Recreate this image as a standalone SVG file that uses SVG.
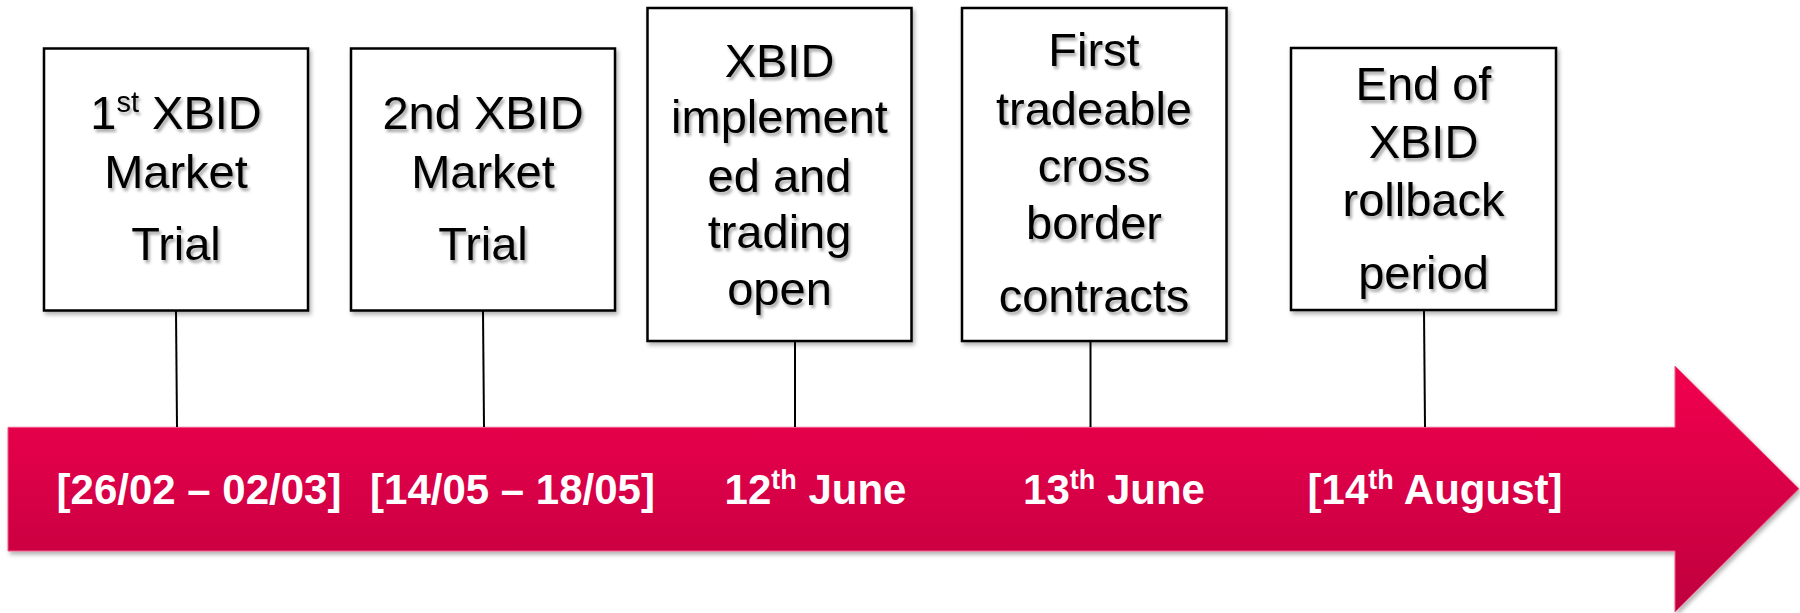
<svg xmlns="http://www.w3.org/2000/svg" width="1800" height="613" viewBox="0 0 1800 613">
  <defs>
    <linearGradient id="arrowGrad" gradientUnits="userSpaceOnUse" x1="0" y1="366" x2="0" y2="612">
      <stop offset="0" stop-color="#f2004f"/>
      <stop offset="1" stop-color="#bf003e"/>
    </linearGradient>
    <filter id="shadow" x="-5%" y="-5%" width="115%" height="120%">
      <feDropShadow dx="2" dy="3" stdDeviation="2" flood-color="#000" flood-opacity="0.3"/>
    </filter>
    <filter id="tshadow" x="-10%" y="-10%" width="130%" height="130%">
      <feDropShadow dx="2" dy="3" stdDeviation="1.5" flood-color="#000" flood-opacity="0.35"/>
    </filter>
  </defs>
  <style>
    .box { fill: #ffffff; stroke: #000000; stroke-width: 2.5; }
    .conn { stroke: #000000; stroke-width: 2; fill: none; }
    .lbl { font-family: "Liberation Sans", Arial, sans-serif; font-size: 47px; fill: #000000; text-anchor: middle; }
    .date { font-family: "Liberation Sans", Arial, sans-serif; font-size: 42px; font-weight: bold; fill: #ffffff; text-anchor: middle; }
  </style>
  <rect width="1800" height="613" fill="#ffffff"/>

  <g id="timeline-arrow" filter="url(#shadow)">
    <path d="M8,427.3 L1675,427.3 L1675,366 L1799,488.7 L1675,612 L1675,551 L8,551 Z" fill="url(#arrowGrad)" stroke="#ef5a8a" stroke-width="1"/>
  </g>

  <g id="connectors">
    <line class="conn" x1="176" y1="311" x2="177" y2="427"/>
    <line class="conn" x1="483" y1="311" x2="484" y2="427"/>
    <line class="conn" x1="795" y1="341" x2="795" y2="427"/>
    <line class="conn" x1="1090.5" y1="341" x2="1090.5" y2="427"/>
    <line class="conn" x1="1424" y1="311" x2="1425" y2="427"/>
  </g>

  <g id="node-1">
    <rect class="box" x="44" y="48.5" width="264" height="262" filter="url(#shadow)"/>
    <g class="lbl" filter="url(#tshadow)">
      <text x="176" y="129">1<tspan font-size="29" dy="-17">st</tspan><tspan dy="17"> XBID</tspan></text>
      <text x="176" y="188">Market</text>
      <text x="176" y="260">Trial</text>
    </g>
  </g>

  <g id="node-2">
    <rect class="box" x="351" y="48.5" width="264" height="262" filter="url(#shadow)"/>
    <g class="lbl" filter="url(#tshadow)">
      <text x="483" y="129">2nd XBID</text>
      <text x="483" y="188">Market</text>
      <text x="483" y="260">Trial</text>
    </g>
  </g>

  <g id="node-3">
    <rect class="box" x="647.5" y="8" width="264" height="333" filter="url(#shadow)"/>
    <g class="lbl" filter="url(#tshadow)">
      <text x="779.5" y="77">XBID</text>
      <text x="779.5" y="133">implement</text>
      <text x="779.5" y="192">ed and</text>
      <text x="779.5" y="248">trading</text>
      <text x="779.5" y="305">open</text>
    </g>
  </g>

  <g id="node-4">
    <rect class="box" x="962" y="8" width="264.5" height="333" filter="url(#shadow)"/>
    <g class="lbl" filter="url(#tshadow)">
      <text x="1094" y="66">First</text>
      <text x="1094" y="125">tradeable</text>
      <text x="1094" y="182">cross</text>
      <text x="1094" y="239">border</text>
      <text x="1094" y="312">contracts</text>
    </g>
  </g>

  <g id="node-5">
    <rect class="box" x="1291" y="48" width="265" height="262" filter="url(#shadow)"/>
    <g class="lbl" filter="url(#tshadow)">
      <text x="1423.5" y="100">End of</text>
      <text x="1423.5" y="158">XBID</text>
      <text x="1423.5" y="216">rollback</text>
      <text x="1423.5" y="289">period</text>
    </g>
  </g>

  <g id="dates">
    <text class="date" x="199" y="504">[26/02 – 02/03]</text>
    <text class="date" x="512.5" y="504">[14/05 – 18/05]</text>
    <text class="date" x="815.5" y="504">12<tspan font-size="27" dy="-15">th</tspan><tspan dy="15"> June</tspan></text>
    <text class="date" x="1114" y="504">13<tspan font-size="27" dy="-15">th</tspan><tspan dy="15"> June</tspan></text>
    <text class="date" x="1435" y="504">[14<tspan font-size="27" dy="-15">th</tspan><tspan dy="15"> August]</tspan></text>
  </g>
</svg>
